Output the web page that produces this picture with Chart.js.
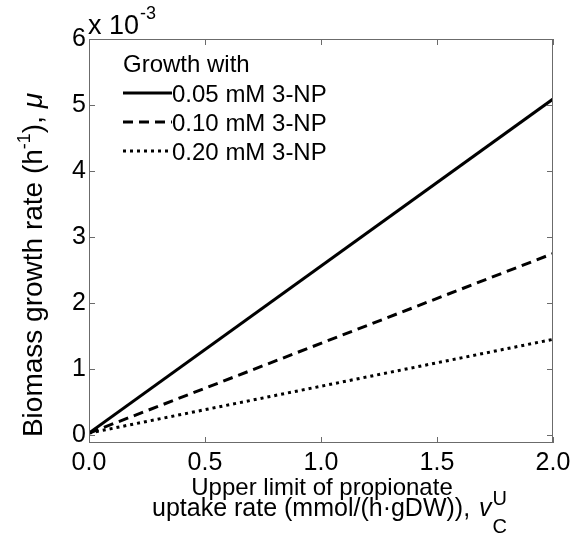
<!DOCTYPE html>
<html>
<head>
<meta charset="utf-8">
<script src="https://cdn.jsdelivr.net/npm/chart.js@4/dist/chart.umd.min.js"></script>
<style>
  html, body { margin: 0; padding: 0; background: #fff; }
  #wrap { width: 582px; height: 538px; }
</style>
</head>
<body>
<div id="wrap"><canvas id="c" width="582" height="538"></canvas></div>
<script>
// uptake rate limit (mmol/(h gDW))
var xVals = [0.0, 2.0];
// growth rate, x 10^-3 h^-1
var mu005 = [0.03, 5.09];
var mu010 = [0.03, 2.75];
var mu020 = [0.03, 1.45];
var seriesLabels = ['0.05 mM 3-NP', '0.10 mM 3-NP', '0.20 mM 3-NP'];
var xTicks = [0.0, 0.5, 1.0, 1.5, 2.0];
var yTicks = [0, 1, 2, 3, 4, 5, 6];

var FONT = '"Liberation Sans", Arial, sans-serif';
var AXIS_COL = '#6b6b6b';

function pts(ys) {
  return xVals.map(function(x, i) { return { x: x, y: ys[i] }; });
}

// legend, titles, inward ticks and box (MATLAB look)
var decoPlugin = {
  id: 'deco',
  afterDraw: function(chart) {
    var ctx = chart.ctx;
    var a = chart.chartArea;
    var xs = chart.scales.x, ys = chart.scales.y;
    ctx.save();

    // box
    ctx.strokeStyle = AXIS_COL;
    ctx.lineWidth = 1;
    ctx.strokeRect(a.left + 0.5, a.top + 0.5, a.right - a.left - 1, a.bottom - a.top - 1);

    // inward ticks
    ctx.beginPath();
    xTicks.forEach(function(v) {
      var px = Math.round(xs.getPixelForValue(v)) + 0.5;
      ctx.moveTo(px, a.bottom); ctx.lineTo(px, a.bottom - 6);
      ctx.moveTo(px, a.top); ctx.lineTo(px, a.top + 6);
    });
    yTicks.forEach(function(v) {
      var py = Math.round(ys.getPixelForValue(v)) + 0.5;
      ctx.moveTo(a.left, py); ctx.lineTo(a.left + 6, py);
      ctx.moveTo(a.right, py); ctx.lineTo(a.right - 6, py);
    });
    ctx.stroke();

    ctx.fillStyle = '#000';
    ctx.textBaseline = 'alphabetic';

    // exponent label
    ctx.font = '27px ' + FONT;
    ctx.textAlign = 'left';
    ctx.fillText('x 10', a.left - 1, 34);
    var w = ctx.measureText('x 10').width;
    ctx.font = '18px ' + FONT;
    ctx.fillText('-3', a.left - 1 + w + 1, 19);

    // legend
    var lx = 123, lTextX = 172;
    ctx.font = '24px ' + FONT;
    ctx.fillText('Growth with', lx, 72);
    var rowsY = [93, 122, 151];
    chart.data.datasets.forEach(function(ds, i) {
      ctx.beginPath();
      ctx.strokeStyle = ds.borderColor;
      ctx.lineWidth = ds.borderWidth;
      ctx.setLineDash(ds.borderDash || []);
      ctx.moveTo(lx, rowsY[i]);
      ctx.lineTo(lTextX, rowsY[i]);
      ctx.stroke();
      ctx.setLineDash([]);
      ctx.fillText(ds.label, lTextX, rowsY[i] + 9);
    });

    // x title
    ctx.textAlign = 'center';
    ctx.font = '24px ' + FONT;
    ctx.fillText('Upper limit of propionate', 322, 495);
    var line2 = 'uptake rate (mmol/(h\u00b7gDW)), ';
    ctx.textAlign = 'left';
    ctx.font = '25px ' + FONT;
    var sx = 152;
    var w2 = ctx.measureText(line2).width;
    ctx.fillText(line2, sx, 516);
    ctx.font = 'italic 25px ' + FONT;
    var wv = ctx.measureText('v').width;
    ctx.fillText('v', sx + w2 + 2, 516);
    ctx.font = '20px ' + FONT;
    ctx.fillText('U', sx + w2 + wv + 3, 505);
    ctx.fillText('C', sx + w2 + wv + 3, 533);

    // y title (rotated)
    ctx.translate(42, 265);
    ctx.rotate(-Math.PI / 2);
    ctx.font = '28px ' + FONT;
    var p1 = 'Biomass growth rate (h', p2 = '-1', p3 = '), ', p4 = '\u03bc';
    var w1 = ctx.measureText(p1).width;
    ctx.font = '18px ' + FONT;
    var wsup = ctx.measureText(p2).width;
    ctx.font = '28px ' + FONT;
    var w3 = ctx.measureText(p3).width;
    ctx.font = 'italic 28px ' + FONT;
    var w4 = ctx.measureText(p4).width;
    var tx = -(w1 + wsup + w3 + w4) / 2;
    ctx.textAlign = 'left';
    ctx.font = '28px ' + FONT;
    ctx.fillText(p1, tx, 0);
    ctx.font = '18px ' + FONT;
    ctx.fillText(p2, tx + w1, -12);
    ctx.font = '28px ' + FONT;
    ctx.fillText(p3, tx + w1 + wsup, 0);
    ctx.font = 'italic 28px ' + FONT;
    ctx.fillText(p4, tx + w1 + wsup + w3, 0);

    ctx.restore();
  }
};

new Chart(document.getElementById('c'), {
  type: 'line',
  data: {
    datasets: [
      { label: seriesLabels[0], data: pts(mu005), borderColor: '#000', borderWidth: 3, pointRadius: 0, fill: false },
      { label: seriesLabels[1], data: pts(mu010), borderColor: '#000', borderWidth: 3, borderDash: [10, 6], pointRadius: 0, fill: false },
      { label: seriesLabels[2], data: pts(mu020), borderColor: '#000', borderWidth: 3, borderDash: [3, 4], pointRadius: 0, fill: false }
    ]
  },
  options: {
    responsive: false,
    animation: false,
    layout: { padding: { top: 39, right: 29, left: 0, bottom: 0 } },
    plugins: { legend: { display: false }, tooltip: { enabled: false } },
    scales: {
      x: {
        type: 'linear',
        min: 0, max: 2,
        afterFit: function(s) { s.height = 95; },
        afterBuildTicks: function(s) { s.ticks = xTicks.map(function(v) { return { value: v }; }); },
        grid: { display: false, drawTicks: false },
        border: { display: false },
        ticks: {
          color: '#000', padding: 5,
          font: { family: FONT, size: 25 },
          callback: function(v) { return Number(v).toFixed(1); }
        }
      },
      y: {
        min: -0.12, max: 6,
        afterFit: function(s) { s.width = 89; },
        afterBuildTicks: function(s) { s.ticks = yTicks.map(function(v) { return { value: v }; }); },
        grid: { display: false, drawTicks: false },
        border: { display: false },
        ticks: {
          color: '#000', padding: 3,
          font: { family: FONT, size: 25 },
          callback: function(v) { return String(v); }
        }
      }
    }
  },
  plugins: [decoPlugin]
});
</script>
</body>
</html>
